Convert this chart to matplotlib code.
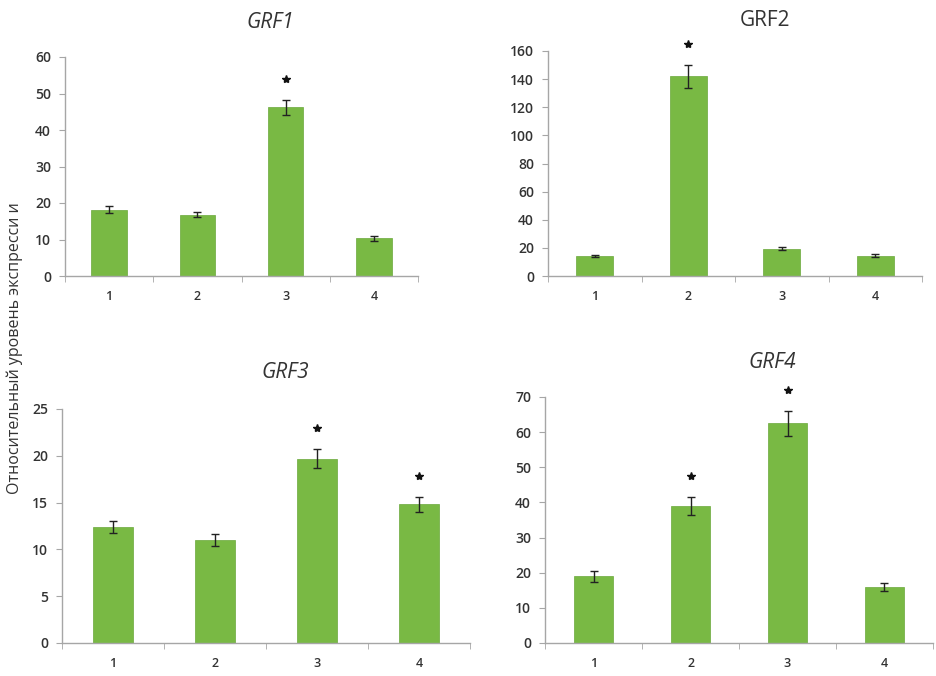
import matplotlib
matplotlib.use("Agg")
import matplotlib.pyplot as plt
from matplotlib.transforms import offset_copy
import numpy as np

plt.rcParams['font.family'] = ['Open Sans', 'DejaVu Sans']

categories = ["1", "2", "3", "4"]

grf1_vals = [18.2, 16.8, 46.2, 10.3]
grf1_err = [1.0, 0.7, 2.0, 0.7]
grf1_star = [False, False, True, False]

grf2_vals = [14.0, 142.0, 19.5, 14.5]
grf2_err = [0.8, 8.0, 1.0, 1.0]
grf2_star = [False, True, False, False]

grf3_vals = [12.4, 11.0, 19.7, 14.8]
grf3_err = [0.6, 0.6, 1.0, 0.8]
grf3_star = [False, False, True, True]

grf4_vals = [19.0, 39.0, 62.5, 16.0]
grf4_err = [1.5, 2.5, 3.5, 1.2]
grf4_star = [False, True, True, False]

titles = ["GRF1", "GRF2", "GRF3", "GRF4"]
title_italic = [True, False, True, True]
ylims = [(0, 60), (0, 160), (0, 25), (0, 70)]
yticks = [np.arange(0, 61, 10), np.arange(0, 161, 20), np.arange(0, 26, 5), np.arange(0, 71, 10)]
ylabel = "Относительный уровень экспресси и"

W, H = 937, 676
fig = plt.figure(figsize=(W / 100, H / 100), dpi=100)

def rect(l, r, t, b):
    return [l / W, 1 - b / H, (r - l) / W, (b - t) / H]

rects = [rect(65, 418, 57, 276), rect(548, 922, 51, 276),
         rect(62, 470, 409, 643), rect(545, 933, 397, 643)]
title_pos = [(270, 22), (765, 20), (285, 372), (772, 363)]

data = [(grf1_vals, grf1_err, grf1_star), (grf2_vals, grf2_err, grf2_star),
        (grf3_vals, grf3_err, grf3_star), (grf4_vals, grf4_err, grf4_star)]

bar_color = "#79b944"
axis_color = "#a6a6a6"
text_color = "#333333"

for i, (vals, errs, stars) in enumerate(data):
    ax = fig.add_axes(rects[i])
    x = np.arange(len(categories))
    ax.bar(x, vals, width=0.4, color=bar_color, edgecolor="#6aa83a", linewidth=0.5, zorder=2)
    ax.errorbar(x, vals, yerr=errs, fmt='none', ecolor='#222222', elinewidth=1.0,
                capsize=3, capthick=1.0, zorder=3)
    star_tr = offset_copy(ax.transData, fig=fig, x=0, y=15, units='points')
    for xi, v, e, s in zip(x, vals, errs, stars):
        if s:
            ax.plot([xi], [v + e], marker='*', color='#111111', markersize=6,
                    transform=star_tr, clip_on=False, zorder=4)
    ax.set_xlim(-0.5, len(categories) - 0.5)
    ax.set_ylim(*ylims[i])
    ax.set_yticks(yticks[i])
    ax.set_xticks(x)
    ax.set_xticklabels(categories, fontweight='semibold')
    ax.set_yticklabels([str(v) for v in yticks[i]], fontweight='semibold')
    ax.set_xticks(np.arange(-0.5, len(categories), 1.0), minor=True)
    ax.tick_params(axis='x', which='major', length=0, pad=10, labelsize=9, colors=text_color)
    ax.tick_params(axis='x', which='minor', length=4, color=axis_color, direction='out')
    ax.tick_params(axis='y', length=4, color=axis_color, labelsize=10, labelcolor=text_color, pad=6)
    for sp in ['top', 'right']:
        ax.spines[sp].set_visible(False)
    for sp in ['left', 'bottom']:
        ax.spines[sp].set_color(axis_color)
        ax.spines[sp].set_linewidth(1.0)
    tx, ty = title_pos[i]
    fig.text(tx / W, 1 - ty / H, titles[i], ha='center', va='center', fontsize=15,
             style='italic' if title_italic[i] else 'normal', color='#333333')

fig.text(15 / W, 1 - 348 / H, ylabel, rotation=90, ha='center', va='center',
         fontsize=11.5, color='#333333')

fig.savefig("out.png", dpi=100, facecolor='white')
